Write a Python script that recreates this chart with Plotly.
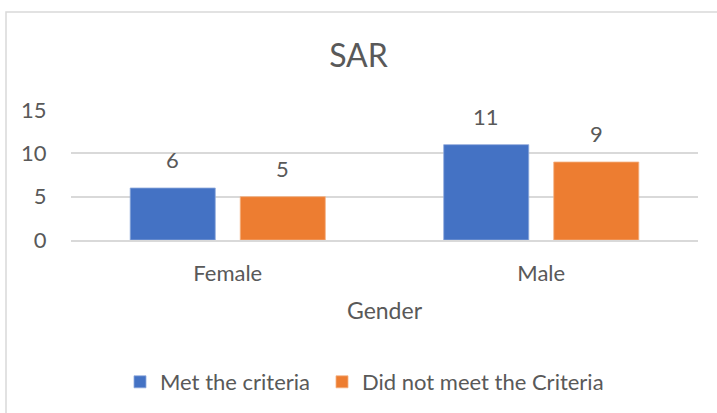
import plotly.graph_objects as go

categories = ["Female", "Male"]
met_values = [6, 11]
not_met_values = [5, 9]
series_names = ["Met the criteria", "Did not meet the Criteria"]
y_ticks = [0, 5, 10, 15]

BLUE = "#4472C4"
ORANGE = "#ED7D31"
TEXT = "#595959"
GRID = "#D9D9D9"
FONT = "Lato"

fig = go.Figure()
fig.add_trace(go.Bar(x=categories, y=met_values, name=series_names[0], legend="legend",
                     marker=dict(color=BLUE, line=dict(color="#8faadc", width=0.8))))
fig.add_trace(go.Bar(x=categories, y=not_met_values, name=series_names[1], legend="legend2",
                     marker=dict(color=ORANGE, line=dict(color="#f4b183", width=0.8))))

annotations = []
for vals, shift in ((met_values, -55), (not_met_values, 55)):
    for c, v in zip(categories, vals):
        annotations.append(dict(x=c, y=v, xref="x", yref="y", text=str(v),
                                showarrow=False, xshift=shift, yshift=13,
                                yanchor="bottom",
                                font=dict(family=FONT, size=22, color=TEXT)))

legend_common = dict(orientation="h", xref="container", yref="container",
                     xanchor="left", y=1 - 382 / 413, yanchor="middle",
                     font=dict(family=FONT, size=22, color=TEXT),
                     bgcolor="rgba(0,0,0,0)")

fig.update_layout(
    width=717, height=413,
    margin=dict(l=71, r=19, t=110, b=173),
    paper_bgcolor="white", plot_bgcolor="white",
    font=dict(family=FONT, size=22, color=TEXT),
    title=dict(text="SAR", x=0.5, xanchor="center", y=1 - 56 / 413, yanchor="middle",
               font=dict(family=FONT, size=32, color=TEXT)),
    barmode="group", bargap=0.298, bargroupgap=0.227,
    showlegend=True,
    legend=dict(x=120 / 717, **legend_common),
    legend2=dict(x=322 / 717, **legend_common),
    annotations=annotations,
    shapes=[dict(type="rect", xref="paper", yref="paper",
                 x0=(6 - 71) / 627, x1=1.2, y0=-2.0, y1=(240 - 12) / 130,
                 line=dict(color=GRID, width=1.5), layer="below")],
)
fig.update_xaxes(showgrid=False, showline=True, linecolor=GRID, linewidth=1.5,
                 ticks="outside", ticklen=13, tickcolor="rgba(0,0,0,0)",
                 tickfont=dict(family=FONT, size=22, color=TEXT),
                 title=dict(text="Gender", standoff=18,
                            font=dict(family=FONT, size=23, color=TEXT)))
fig.update_yaxes(range=[0, 15], tickvals=y_ticks, showgrid=True, gridcolor=GRID,
                 gridwidth=1.5, zeroline=False, showline=False,
                 ticks="outside", ticklen=19, tickcolor="rgba(0,0,0,0)",
                 tickfont=dict(family=FONT, size=22, color=TEXT))

fig.write_html("out.html", config={"displayModeBar": False},
               post_script="document.body.style.margin='0';")
